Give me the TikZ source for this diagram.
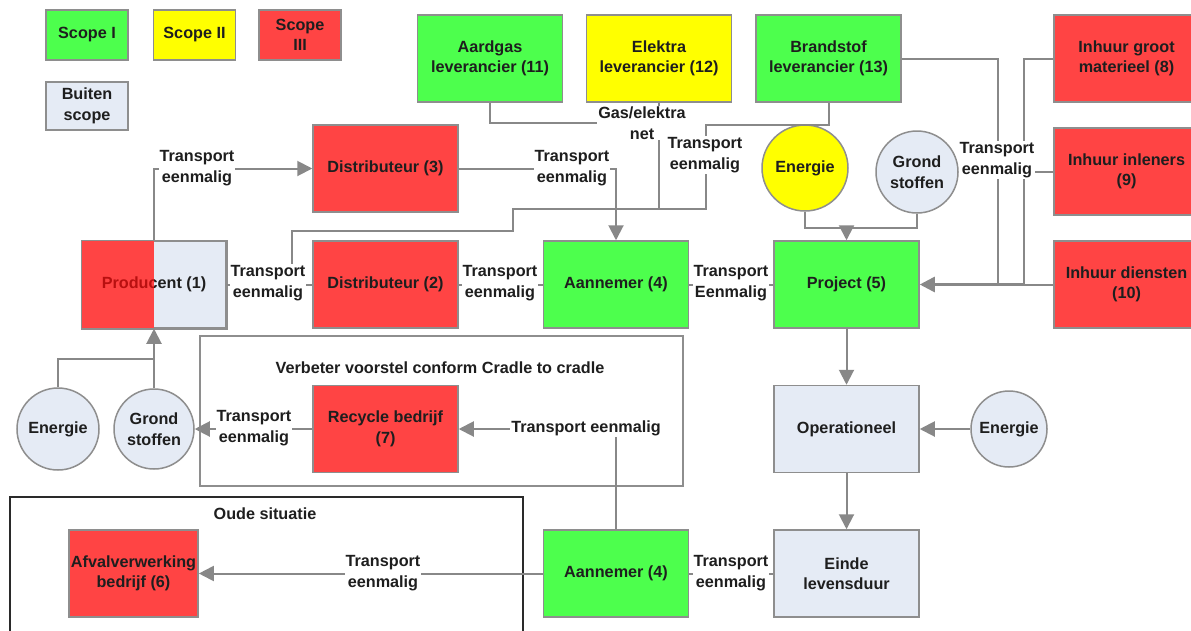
\documentclass[tikz,border=0pt]{standalone}
\usepackage{fontspec}
\setmainfont{Liberation Sans}
\usetikzlibrary{arrows.meta}
\definecolor{cgreen}{HTML}{4DFF4D}
\definecolor{cyellow}{HTML}{FFFF00}
\definecolor{cred}{HTML}{FF4444}
\definecolor{cblue}{HTML}{E5EBF5}
\definecolor{cline}{HTML}{888888}
\definecolor{cborder}{HTML}{8E8E8E}
\definecolor{ctext}{HTML}{1E1E1E}
\definecolor{cdarkred}{HTML}{B81010}
\definecolor{cframe}{HTML}{2A2A2A}
\begin{document}
\begin{tikzpicture}[x=1pt,y=-1pt,
  txt/.style={font=\fontsize{16.2}{20.5}\selectfont\bfseries, text=ctext, align=center},
  box/.style={txt, draw=cborder, line width=1.5pt, minimum width=145pt, minimum height=87pt, inner sep=2pt},
  legend/.style={txt, draw=cborder, line width=1.5pt, minimum width=82pt, minimum height=50pt, inner sep=1pt},
  circ/.style={txt, circle, draw=cborder, line width=1.5pt, inner sep=0pt},
  lbl/.style={txt, fill=white, inner sep=1pt},
  ln/.style={draw=cline, line width=2pt},
  arr/.style={ln, -{Triangle[length=15pt,width=15pt]}}
]
\clip (0,0) rectangle (1191,630);
\fill[white] (0,0) rectangle (1191,630);

% frames
\node[draw=cborder, line width=1.5pt, minimum width=483pt, minimum height=150pt, inner sep=0pt] (cradle) at (441.5,411) {};
\node[txt] (cradletitle) at (440,368) {Verbeter voorstel conform Cradle to cradle};
\node[draw=cframe, line width=2pt, minimum width=513pt, minimum height=160pt, inner sep=0pt] (oude) at (266.5,577) {};
\node[txt] (oudetitle) at (265,514) {Oude situatie};

% legend
\node[legend, fill=cgreen] (s1) at (87,35) {Scope I};
\node[legend, fill=cyellow] (s2) at (194.5,35) {Scope II};
\node[legend, fill=cred] (s3) at (300,35) {Scope\\III};
\node[legend, fill=cblue, minimum height=48pt] (bs) at (87,106) {Buiten\\scope};

% top suppliers
\node[box, fill=cgreen] (n11) at (490,58.5) {Aardgas\\leverancier (11)};
\node[box, fill=cyellow] (n12) at (659,58.5) {Elektra\\leverancier (12)};
\node[box, fill=cgreen] (n13) at (828.5,58.5) {Brandstof\\leverancier (13)};
\node[box, fill=cred] (n8) at (1126.5,58.5) {Inhuur groot\\materieel (8)};
\node[box, fill=cred] (n9) at (1126.5,171.5) {Inhuur inleners\\(9)};
\node[box, fill=cred] (n10) at (1126.5,284.5) {Inhuur diensten\\(10)};

\node[box, fill=cred] (d3) at (385.5,168.5) {Distributeur (3)};
\node[circ, fill=cyellow, minimum size=86pt] (eny) at (805,168) {Energie};
\node[circ, fill=cblue, minimum size=82pt] (gst) at (917,172) {Grond\\stoffen};

% main row
\node[box, fill=cblue, minimum width=144pt] (prod) at (154,284.5) {};
\fill[cred] (prod.north west) rectangle (prod.south);
\draw[draw=cborder, line width=1.5pt] (prod.north west) rectangle (prod.south east);
\begin{scope}
\clip (prod.north west) rectangle (prod.south);
\node[txt, text=cdarkred] (prodtxtA) at (prod.center) {Producent (1)};
\end{scope}
\begin{scope}
\clip (prod.north) rectangle (prod.south east);
\node[txt] (prodtxtB) at (prod.center) {Producent (1)};
\end{scope}
\node[box, fill=cred] (d2) at (385.5,284.5) {Distributeur (2)};
\node[box, fill=cgreen] (a4) at (616,284.5) {Aannemer (4)};
\node[box, fill=cgreen] (p5) at (846.5,284.5) {Project (5)};

% lower
\node[circ, fill=cblue, minimum size=82pt] (en1) at (58,429) {Energie};
\node[circ, fill=cblue, minimum size=80pt] (gs1) at (154,429) {Grond\\stoffen};
\node[box, fill=cred] (r7) at (385.5,429) {Recycle bedrijf\\(7)};
\node[box, fill=cblue] (op) at (846.5,429) {Operationeel};
\node[circ, fill=cblue, minimum size=76pt] (en3) at (1009,429) {Energie};
\node[box, fill=cred, minimum width=125pt] (af6) at (133.5,573.5) {Afvalverwerking\\bedrijf (6)};
\node[box, fill=cgreen] (a4b) at (616,573.5) {Aannemer (4)};
\node[box, fill=cblue] (ei) at (846.5,573.5) {Einde\\levensduur};

% junction coordinates
\coordinate (b1) at (706,125);
\coordinate (j1) at (706,209);
\coordinate (j2) at (513,209);
\coordinate (j3) at (513,231);
\coordinate (j4) at (292,231);
\coordinate (r1) at (998,284.5);
\coordinate (r2) at (1024,284.5);
\coordinate (c1) at (846.5,228);
\coordinate (e1) at (154,359);
\coordinate (g1) at (600,123);

% connectors
\draw[arr] (prod.north) |- (d3.west);
\draw[arr] (d3.east) -| (a4.north);
\draw[ln] (prod.east) -- (d2.west);
\draw[ln] (d2.east) -- (a4.west);
\draw[ln] (a4.east) -- (p5.west);
\draw[ln] (n12.south) -- (n12.south |- j1);
\draw[ln] (n11.south) |- (g1);
\draw[ln] (n13.south) |- (b1) -- (j1) -- (j2) -- (j3) -- (j4) -- (j4 |- d2.west);
\draw[ln] (n13.east) -| (r1);
\draw[ln] (n8.west) -| (r2);
\draw[ln] (n9.west) -- (r2 |- n9.west);
\draw[ln] (n10.west) -- (r2);
\draw[arr, line width=2.6pt] (r2) -- (p5.east);
\draw[ln] (eny.south) |- (c1) -| (gst.south);
\draw[arr] (c1) -- (p5.north);
\draw[arr] (p5.south) -- (op.north);
\draw[arr] (op.south) -- (ei.north);
\draw[arr] (en3.west) -- (op.east);
\draw[ln] (ei.west) -- (a4b.east);
\draw[arr] (a4b.west) -- (af6.east);
\draw[arr] (a4b.north) |- (r7.east);
\draw[arr] (r7.west) -- (gs1.east);
\draw[arr] (gs1.north) -- (prod.south);
\draw[ln] (en1.north) |- (e1);

% connector labels
\node[lbl] (t1) at (197,168) {Transport\\eenmalig};
\node[lbl] (t2) at (572,168) {Transport\\eenmalig};
\node[lbl] (t3) at (268,283) {Transport\\eenmalig};
\node[lbl] (t4) at (500,283) {Transport\\eenmalig};
\node[lbl] (t5) at (731,283) {Transport\\Eenmalig};
\node[lbl] (gasnet) at (642,123) {Gas/elektra\\net};
\node[lbl] (t6) at (705,155) {Transport\\eenmalig};
\node[lbl] (t7) at (997,160) {Transport\\eenmalig};
\node[lbl] (t8) at (586,428) {Transport eenmalig};
\node[lbl] (t9) at (254,428) {Transport\\eenmalig};
\node[lbl] (t10) at (731,573) {Transport\\eenmalig};
\node[lbl] (t11) at (383,573) {Transport\\eenmalig};
\end{tikzpicture}
\end{document}
